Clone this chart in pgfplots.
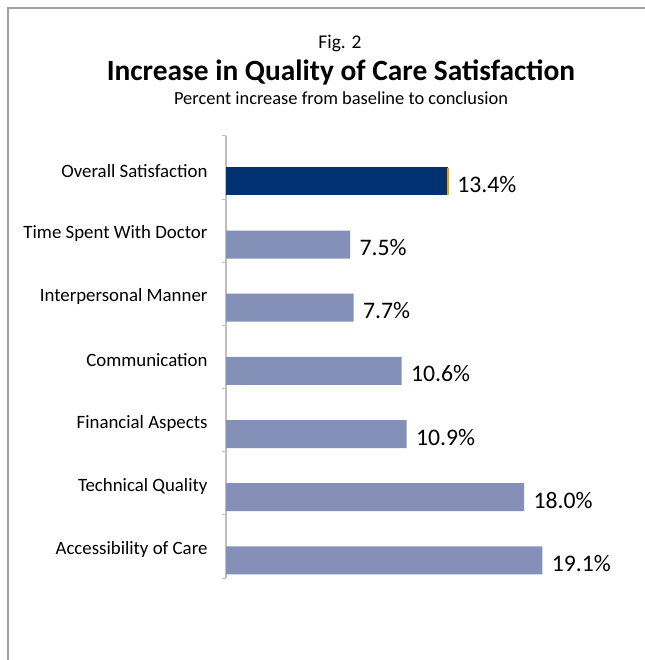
\documentclass[border=0pt]{standalone}
\usepackage{pgfplots}
\pgfplotsset{compat=1.18}
\usepackage{fontspec}
\setmainfont{Carlito}
\definecolor{navy}{RGB}{0,49,112}
\definecolor{lav}{RGB}{132,144,184}
\definecolor{frame}{RGB}{160,160,160}
\definecolor{axisgray}{RGB}{190,190,190}
\definecolor{edgeorange}{RGB}{240,160,0}
\begin{document}
\begin{tikzpicture}[x=1bp,y=1bp]
\path[use as bounding box] (0,0) rectangle (645,660);
\draw[frame,line width=2bp] (8,0) -- (8,652) -- (645,652);
\node at (340,617) {\fontsize{19.5}{22}\selectfont Fig. 2};
\node at (341,588) {\fontsize{29.5}{34}\selectfont\bfseries Increase in Quality of Care Satisfaction};
\node at (341,562) {\fontsize{18.5}{21}\selectfont Percent increase from baseline to conclusion};
\begin{axis}[
  at={(226bp,82bp)}, anchor=south west,
  scale only axis, width=414bp, height=442bp,
  xmin=0, xmax=25, ymin=-0.5, ymax=6.5, y dir=reverse,
  hide x axis,
  axis y line*=left,
  y axis line style={axisgray, line width=1.2bp},
  ytick={0,...,6},
  yticklabels={Overall Satisfaction,Time Spent With Doctor,Interpersonal Manner,Communication,Financial Aspects,Technical Quality,Accessibility of Care},
  major tick length=0pt,
  minor ytick={-0.5,0.5,...,6.5},
  minor tick length=4bp,
  tick align=outside,
  minor tick style={axisgray, line width=1bp},
  yticklabel style={font=\fontsize{18.9}{21}\selectfont, anchor=east, xshift=-15bp, yshift=-3bp},
  /pgf/number format/assume math mode=true,
]
\addplot[xbar, bar width=28bp, bar shift=0pt, fill=navy, draw=none,
  point meta=x,
  nodes near coords={\pgfmathprintnumber[fixed,fixed zerofill,precision=1,assume math mode=true]{\pgfplotspointmeta}\%},
  nodes near coords style={font=\fontsize{23.8}{26}\selectfont, anchor=west, xshift=6bp, yshift=-3bp, black}]
  coordinates {(13.4,0.22)};
\addplot[xbar, bar width=28bp, bar shift=0pt, fill=lav, draw=none,
  point meta=x,
  nodes near coords={\pgfmathprintnumber[fixed,fixed zerofill,precision=1,assume math mode=true]{\pgfplotspointmeta}\%},
  nodes near coords style={font=\fontsize{23.8}{26}\selectfont, anchor=west, xshift=6bp, yshift=-3bp, black}]
  coordinates {(7.5,1.22) (7.7,2.22) (10.6,3.22) (10.9,4.22) (18.0,5.22) (19.1,6.22)};
\addplot[edgeorange, line width=1.5bp, sharp plot, no marks] coordinates {(13.4,-0.0) (13.4,0.44)};
\end{axis}
\end{tikzpicture}
\end{document}
